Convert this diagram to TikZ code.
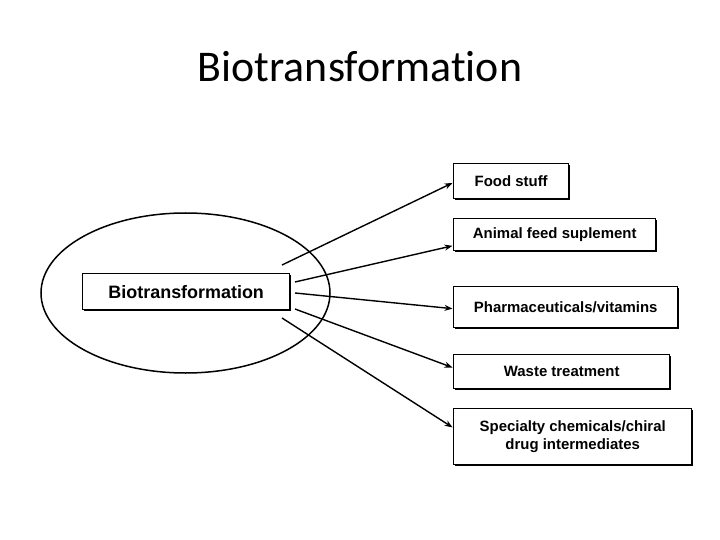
\documentclass[tikz,border=0pt]{standalone}
\usepackage{fontspec}
\setmainfont{Liberation Sans}
\newfontfamily\titlefont[Ligatures={NoCommon,NoRequired,NoContextual}]{Carlito}
\usetikzlibrary{arrows.meta,shadows,shapes.geometric}
\tikzset{
  outbox/.style={draw=black, line width=1.4bp, fill=white, inner sep=0pt, anchor=north west,
    font=\bfseries\fontsize{15}{19}\selectfont, align=center,
    drop shadow={shadow xshift=1.6bp, shadow yshift=-1.6bp, fill=black, opacity=1}},
  arr/.style={line width=1.4bp, -{Stealth[length=8bp,width=6bp]}, shorten >=0.5bp}
}
\begin{document}
\begin{tikzpicture}[x=1bp,y=-1bp]
\useasboundingbox (0,0) rectangle (720,540);
\node[font=\titlefont\fontsize{44}{50}\selectfont, anchor=base] (title) at (360,82) {Biotransformation};
\node[draw, ellipse, line width=1.5bp, minimum width=289bp, minimum height=160bp, inner sep=0pt] (grp) at (185.5,293) {};
\node[outbox, minimum width=207bp, minimum height=36bp, font=\bfseries\fontsize{18}{22}\selectfont] (bio) at (82,273) {Biotransformation};
\node[outbox, minimum width=115bp, minimum height=35bp] (food) at (453,163) {Food stuff};
\node[outbox, minimum width=202bp, minimum height=32bp] (feed) at (453,218) {Animal feed suplement};
\node[outbox, minimum width=224bp, minimum height=41bp] (pharma) at (453,286) {Pharmaceuticals/vitamins};
\node[outbox, minimum width=216bp, minimum height=34bp] (waste) at (453,354) {Waste treatment};
\node[outbox, minimum width=238bp, minimum height=56bp] (spec) at (453,408) {Specialty chemicals/chiral\\drug intermediates};
\coordinate (s1) at (282,265);
\coordinate (s2) at (295,282);
\coordinate (s3) at (295,293);
\coordinate (s4) at (295,309);
\coordinate (s5) at (282,318);
\draw[arr] (s1) -- ([yshift=-1.5bp]food.west);
\draw[arr] (s2) -- ([yshift=-11bp]feed.west);
\draw[arr] (s3) -- ([yshift=-1.5bp]pharma.west);
\draw[arr] (s4) -- ([yshift=4bp]waste.west);
\draw[arr] (s5) -- ([yshift=9bp]spec.west);
\end{tikzpicture}
\end{document}
